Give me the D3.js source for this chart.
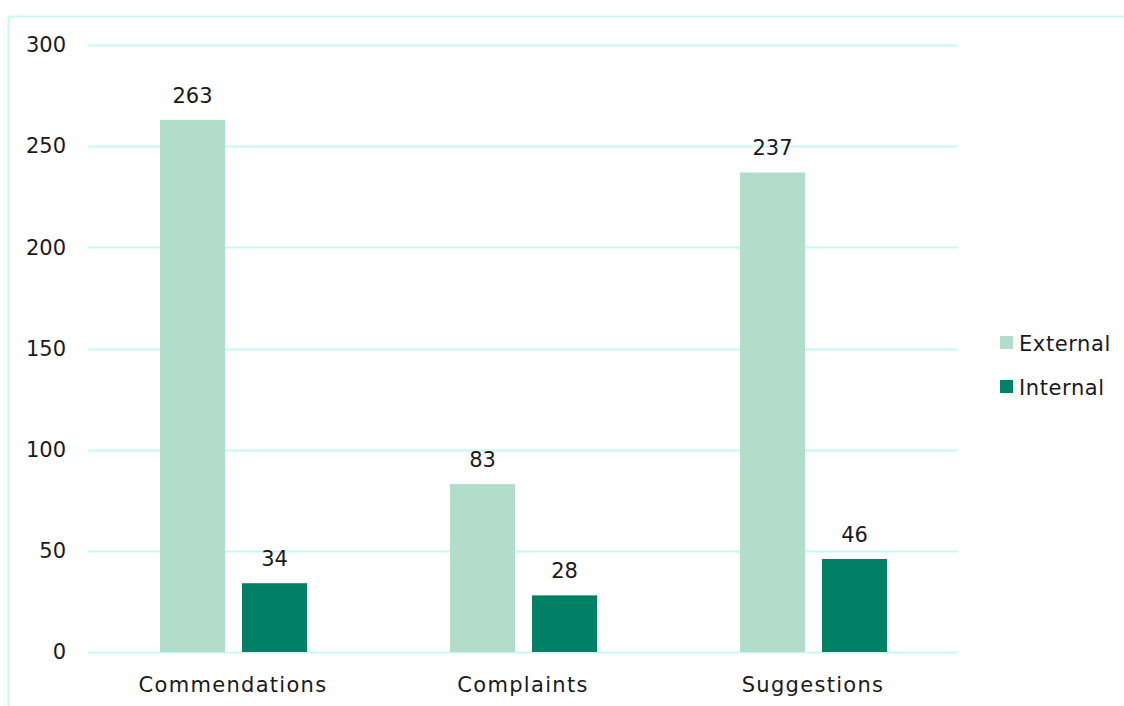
<!DOCTYPE html>
<html>
<head>
<meta charset="utf-8">
<script src="https://cdn.jsdelivr.net/npm/d3@7"></script>
<style>
  html, body { margin: 0; padding: 0; background: #fff; }
  svg text { font-family: "DejaVu Sans", sans-serif; fill: #1a1a1a; }
</style>
</head>
<body>
<svg id="chart" width="1124" height="706"></svg>
<script>
const categories = ["Commendations", "Complaints", "Suggestions"];
const seriesNames = ["External", "Internal"];
const externalValues = [263, 83, 237];
const internalValues = [34, 28, 46];
const yTicks = [0, 50, 100, 150, 200, 250, 300];
const colors = ["#b2ddca", "#038167"];

const svg = d3.select("#chart");
const W = 1124, H = 706;
const plot = { left: 88, right: 958, top: 45, bottom: 652 };
const gridColor = "#c6f9ef";
const fontSize = 21;

// outer frame (top and left edges visible)
svg.append("line").attr("x1", 8.5).attr("x2", W).attr("y1", 16.5).attr("y2", 16.5)
  .attr("stroke", gridColor).attr("stroke-width", 2);
svg.append("line").attr("x1", 8.5).attr("x2", 8.5).attr("y1", 16.5).attr("y2", H)
  .attr("stroke", gridColor).attr("stroke-width", 2);

const y = d3.scaleLinear().domain([0, 300]).range([plot.bottom, plot.top]);
const x0 = d3.scaleBand().domain(categories).range([plot.left, plot.right]).padding(0);
const x1 = d3.scaleBand().domain(seriesNames).range([72, 219]).paddingInner(0.207).paddingOuter(0);

// gridlines
svg.append("g").selectAll("line").data(yTicks).join("line")
  .attr("x1", plot.left).attr("x2", plot.right)
  .attr("y1", d => Math.round(y(d)) + 0.5).attr("y2", d => Math.round(y(d)) + 0.5)
  .attr("stroke", gridColor).attr("stroke-width", 2);

// y axis labels
const yAxis = d3.axisLeft(y).tickValues(yTicks).tickSize(0).tickPadding(0);
const yg = svg.append("g").attr("transform", `translate(66,0)`).call(yAxis);
yg.select(".domain").remove();
yg.selectAll("text").attr("font-size", fontSize).attr("fill", "#1a1a1a");

// x axis labels
const xAxis = d3.axisBottom(x0).tickSize(0).tickPadding(0);
const xg = svg.append("g").attr("transform", `translate(0,${plot.bottom})`).call(xAxis);
xg.select(".domain").remove();
xg.selectAll("text").attr("font-size", fontSize).attr("fill", "#1a1a1a")
  .attr("dy", null).attr("y", 40).attr("letter-spacing", 1.3);

// bars
const rows = categories.map((c, i) => ({ cat: c, vals: [externalValues[i], internalValues[i]] }));
const groups = svg.append("g").selectAll("g").data(rows).join("g")
  .attr("transform", d => `translate(${x0(d.cat)},0)`);

groups.selectAll("rect").data(d => d.vals.map((v, j) => ({ key: seriesNames[j], v, j })))
  .join("rect")
  .attr("x", d => x1(d.key))
  .attr("width", x1.bandwidth())
  .attr("y", d => y(d.v))
  .attr("height", d => y(0) - y(d.v))
  .attr("fill", d => colors[d.j]);

groups.selectAll("text.val").data(d => d.vals.map((v, j) => ({ key: seriesNames[j], v, j })))
  .join("text").attr("class", "val")
  .attr("x", d => x1(d.key) + x1.bandwidth() / 2)
  .attr("y", d => y(d.v) - 17)
  .attr("text-anchor", "middle")
  .attr("font-size", fontSize)
  .text(d => d.v);

// legend
const legend = svg.append("g").attr("transform", "translate(1000,336)");
seriesNames.forEach((s, i) => {
  const g = legend.append("g").attr("transform", `translate(0,${i * 44})`);
  g.append("rect").attr("width", 13).attr("height", 13).attr("fill", colors[i]);
  g.append("text").attr("x", 19).attr("y", 14.5).attr("font-size", fontSize)
    .attr("letter-spacing", 0.6).text(s);
});
</script>
</body>
</html>
